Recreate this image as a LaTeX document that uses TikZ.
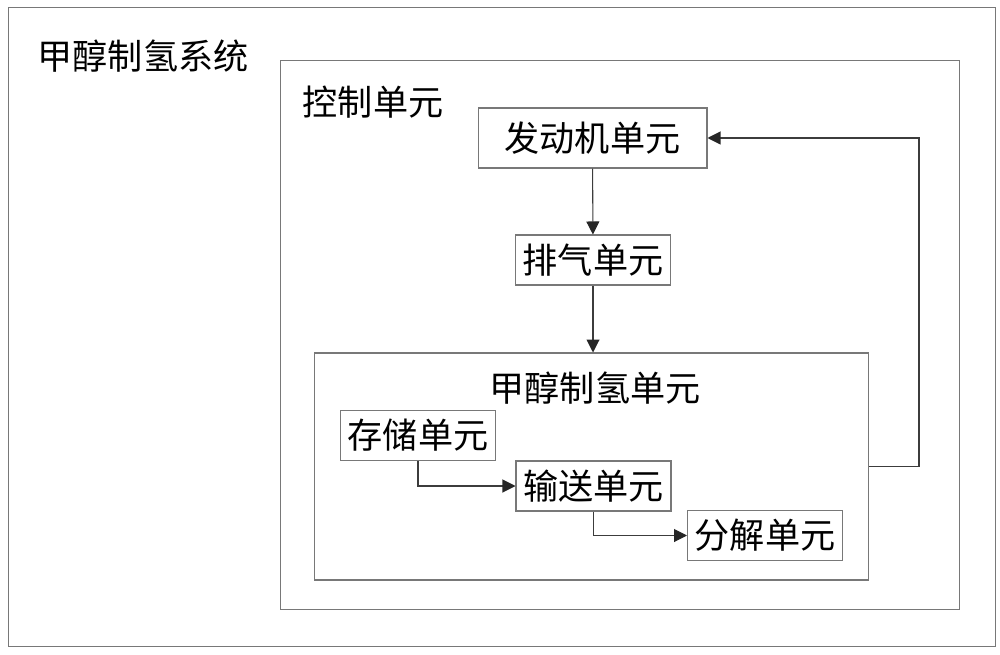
\documentclass[tikz,border=0pt]{standalone}
\usepackage{fontspec}
\setmainfont{Noto Sans CJK SC}
\usetikzlibrary{arrows.meta, positioning}
\definecolor{framegray}{RGB}{120, 120, 120}
\definecolor{linedark}{RGB}{60, 60, 60}
\tikzset{
    unitnode/.style = {draw=framegray, rectangle, line width=0.6pt, inner sep = 0em,
      minimum width=3.1cm, minimum height=1cm, font=\fontsize{20pt}{24pt}\selectfont},
    framenode/.style = {draw=framegray, rectangle, line width=0.6pt, inner sep = 0em},
    textnode/.style  = {draw=none, fill=none, inner sep = 0em, font=\fontsize{20pt}{24pt}\selectfont},
    connect/.style = {linedark, line width=0.6pt,
      -{Triangle[length=0.26cm, width=0.26cm, color=black!85]}}
}

\begin{document}
\begin{tikzpicture}[x=0.02cm, y=-0.02cm]
    \useasboundingbox (0,0) rectangle (1000,655);

    % frames
    \node [name = sys, framenode, minimum width=19.76cm, minimum height=12.8cm] at (502,327) {};
    \node [name = ctrl, framenode, minimum width=13.6cm, minimum height=11cm] at (620,335) {};
    \node [name = meth, framenode, minimum width=11.1cm, minimum height=4.54cm] at (591.5,466.5) {};

    % titles
    \node [name = sysT, textnode] at (143,56) {甲醇制氢系统};
    \node [name = ctrlT, textnode] at (373,102) {控制单元};
    \node [name = methT, textnode] at (595,388) {甲醇制氢单元};

    % units
    \node [name = engine, unitnode, minimum width=4.58cm, minimum height=1.2cm] at (592.5,138) {发动机单元};
    \node [name = exhaust, unitnode] at (593,260) {排气单元};
    \node [name = store, unitnode] at (418,435.5) {存储单元};
    \node [name = conv, unitnode] at (593.5,486) {输送单元};
    \node [name = decomp, unitnode] at (765,535.5) {分解单元};
    \coordinate (fb) at (919,300);

    \draw [connect] (engine) -- (exhaust);
    \draw [connect] (exhaust.south) -- (exhaust.south |- meth.north);
    \draw [connect] (store) |- (conv);
    \draw [connect] (conv) |- (decomp);
    \draw [connect] (meth.east) -| (fb) |- (engine.east);
\end{tikzpicture}
\end{document}
